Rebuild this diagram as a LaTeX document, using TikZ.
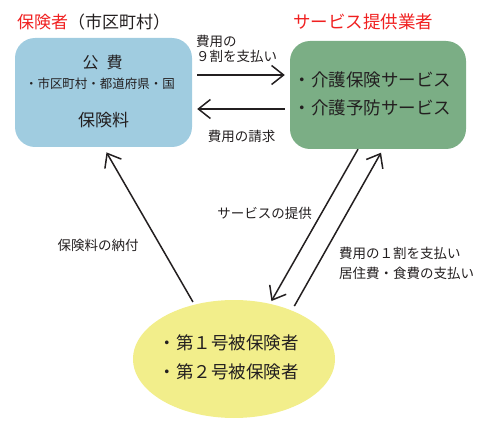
\documentclass[tikz,border=0pt]{standalone}
\usepackage{fontspec}
\setmainfont{Noto Sans CJK JP}
\usetikzlibrary{arrows.meta,shapes.geometric}
\definecolor{hokenblue}{HTML}{A0CCE0}
\definecolor{jigyogreen}{HTML}{7BAE85}
\definecolor{hihokenyellow}{HTML}{F2EE8B}
\definecolor{titlered}{HTML}{F02020}
\definecolor{inkgray}{HTML}{231F20}
\begin{document}
\begin{tikzpicture}[x=1pt,y=-1pt,
		box/.style={rectangle, rounded corners=20pt, minimum width=177pt, minimum height=109pt, inner sep=0pt},
		txt/.style={inner sep=0pt, text=inkgray, font=\fontsize{17}{20}\selectfont},
		lbl/.style={inner sep=0pt, text=inkgray, font=\fontsize{13.5}{14.5}\selectfont, align=left},
		arr/.style={-{Straight Barb[length=12pt,width=19pt]}, line width=1.5pt, draw=inkgray}
		]
		\useasboundingbox (0,0) rectangle (480,428);
		% three parties
		\node[box, fill=hokenblue] (hoken) at (103.5,92.5) {};
		\node[box, fill=jigyogreen, minimum width=176pt, minimum height=108pt] (jigyo) at (378,95) {};
		\node[ellipse, fill=hihokenyellow, minimum width=202pt, minimum height=118pt, inner sep=0pt] (hihoken) at (234,359) {};
		
		% titles
		\node[txt, anchor=west] (hokenTitle) at (17,22) {\textcolor{titlered}{保険者}（市区町村）};
		\node[txt, text=titlered, font=\fontsize{17.5}{20}\selectfont] (jigyoTitle) at (363,22) {サービス提供業者};
		
		% box contents
		\node[txt, font=\fontsize{16}{20}\selectfont] (kohi) at (102.5,62) {公\hspace{0.5em}費};
		\node[txt, font=\fontsize{12.5}{15}\selectfont] (kohiList) at (100,84) {・市区町村・都道府県・国};
		\node[txt] (hokenryo) at (103.5,120) {保険料};
		\node[txt, font=\fontsize{17.5}{20}\selectfont, anchor=west] (kaigo) at (293.5,80) {・介護保険サービス};
		\node[txt, font=\fontsize{17.5}{20}\selectfont, anchor=west] (yobo) at (293.5,108) {・介護予防サービス};
		\node[txt, font=\fontsize{17.5}{20}\selectfont, anchor=west] (dai1) at (158.5,343) {・第１号被保険者};
		\node[txt, font=\fontsize{17.5}{20}\selectfont, anchor=west] (dai2) at (158.5,372) {・第２号被保険者};
		
		% flows
		\draw[arr, shorten <=5pt, shorten >=5pt] ([yshift=17.5pt]hoken.east) -- ([yshift=17.5pt]hoken.east -| jigyo.west);
		\draw[arr, shorten <=5pt, shorten >=5pt] ([yshift=-16.5pt]hoken.east -| jigyo.west) -- ([yshift=-16.5pt]hoken.east);
		\draw[arr, shorten <=3pt, shorten >=6pt] (hihoken.126) -- (hoken.south);
		\draw[arr, shorten >=3pt] ([xshift=-20pt]jigyo.south) -- (hihoken.57);
		\draw[arr, shorten <=5pt, shorten >=4pt] (hihoken.40) -- ([xshift=5pt]jigyo.south);
		
		% flow labels
		\node[lbl, anchor=west] (kyuwari) at (196,49) {費用の\\９割を支払い};
		\node[lbl] (seikyu) at (241.5,136) {費用の請求};
		\node[lbl] (teikyo) at (264.5,213) {サービスの提供};
		\node[lbl] (nofu) at (98,245) {保険料の納付};
		\node[lbl, anchor=west, font=\fontsize{13.5}{20}\selectfont] (ichiwari) at (339,263) {費用の１割を支払い\\居住費・食費の支払い};
	\end{tikzpicture}
\end{document}
